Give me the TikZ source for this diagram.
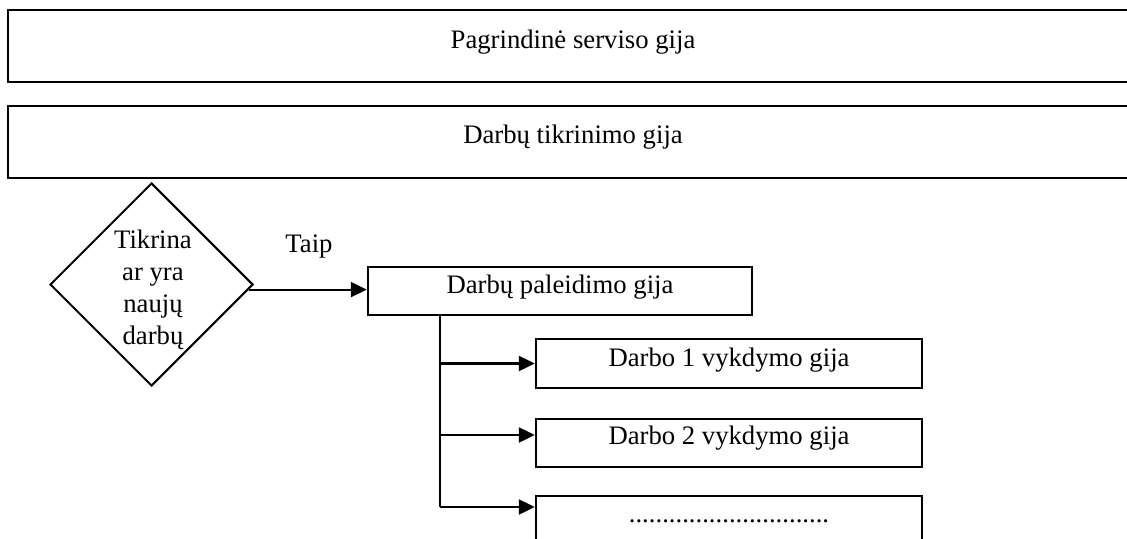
\documentclass[tikz,border=0pt]{standalone}
\usepackage{fontspec}
\setmainfont{Liberation Serif}
\usetikzlibrary{shapes.geometric,arrows.meta}
\begin{document}
\begin{tikzpicture}[x=0.5pt,y=-0.5pt,
  every node/.style={font=\fontsize{13.35}{15.5}\selectfont},
  box/.style={draw,line width=1.2pt,rectangle,inner sep=0pt},
  lbl/.style={inner sep=0pt,anchor=base},
  link/.style={line width=1.1pt},
  arr/.style={link,-{Triangle[length=8pt,width=7.5pt]}}]
\useasboundingbox (0,0) rectangle (1127,539);
\fill[white] (0,0) rectangle (1127,539);

% service threads (extend past the right edge)
\node[box,minimum width=565pt,minimum height=36pt] (main) at (573,46) {};
\node[lbl] (mainT) at (573,49) {Pagrindinė serviso gija};
\node[box,minimum width=565pt,minimum height=36pt] (check) at (573,142) {};
\node[lbl] (checkT) at (573,144) {Darbų tikrinimo gija};

% decision
\node[draw,line width=1pt,diamond,aspect=1,inner sep=0pt,
      minimum width=101.5pt,minimum height=101.5pt] (dia) at (151.5,284.5) {};
\node[inner sep=0pt,align=center,font=\fontsize{13.35}{16}\selectfont] (diaT) at (153,290)
  {Tikrina\\ar yra\\naujų\\darbų};

% launcher thread
\node[box,minimum width=192pt,minimum height=24pt] (pal) at (560,291) {};
\node[lbl] (palT) at (560,293) {Darbų paleidimo gija};
\draw[arr] (dia.-3.6) -- (dia.-3.6 -| pal.west);
\node[lbl] (taip) at (309,253) {Taip};

% worker threads
\node[box,minimum width=193pt,minimum height=24.5pt] (w1) at (729,363.5) {};
\node[lbl] (w1T) at (729,366) {Darbo 1 vykdymo gija};
\node[box,minimum width=193pt,minimum height=24pt] (w2) at (729,443) {};
\node[lbl] (w2T) at (729,444) {Darbo 2 vykdymo gija};
\node[box,minimum width=193pt,minimum height=35pt] (w3) at (729,531) {};
\node[lbl] (w3T) at (729,522) {..............................};

% fan-out trunk
\coordinate (br1) at (440,363.5);
\coordinate (br2) at (440,435);
\coordinate (br3) at (440,507);
\draw[link] (br3 |- pal.south) -- (br3);
\draw[arr] (br1) -- (br1 -| w1.west);
\draw[arr] (br2) -- (br2 -| w2.west);
\draw[arr] (br3) -- (br3 -| w3.west);
\end{tikzpicture}
\end{document}
